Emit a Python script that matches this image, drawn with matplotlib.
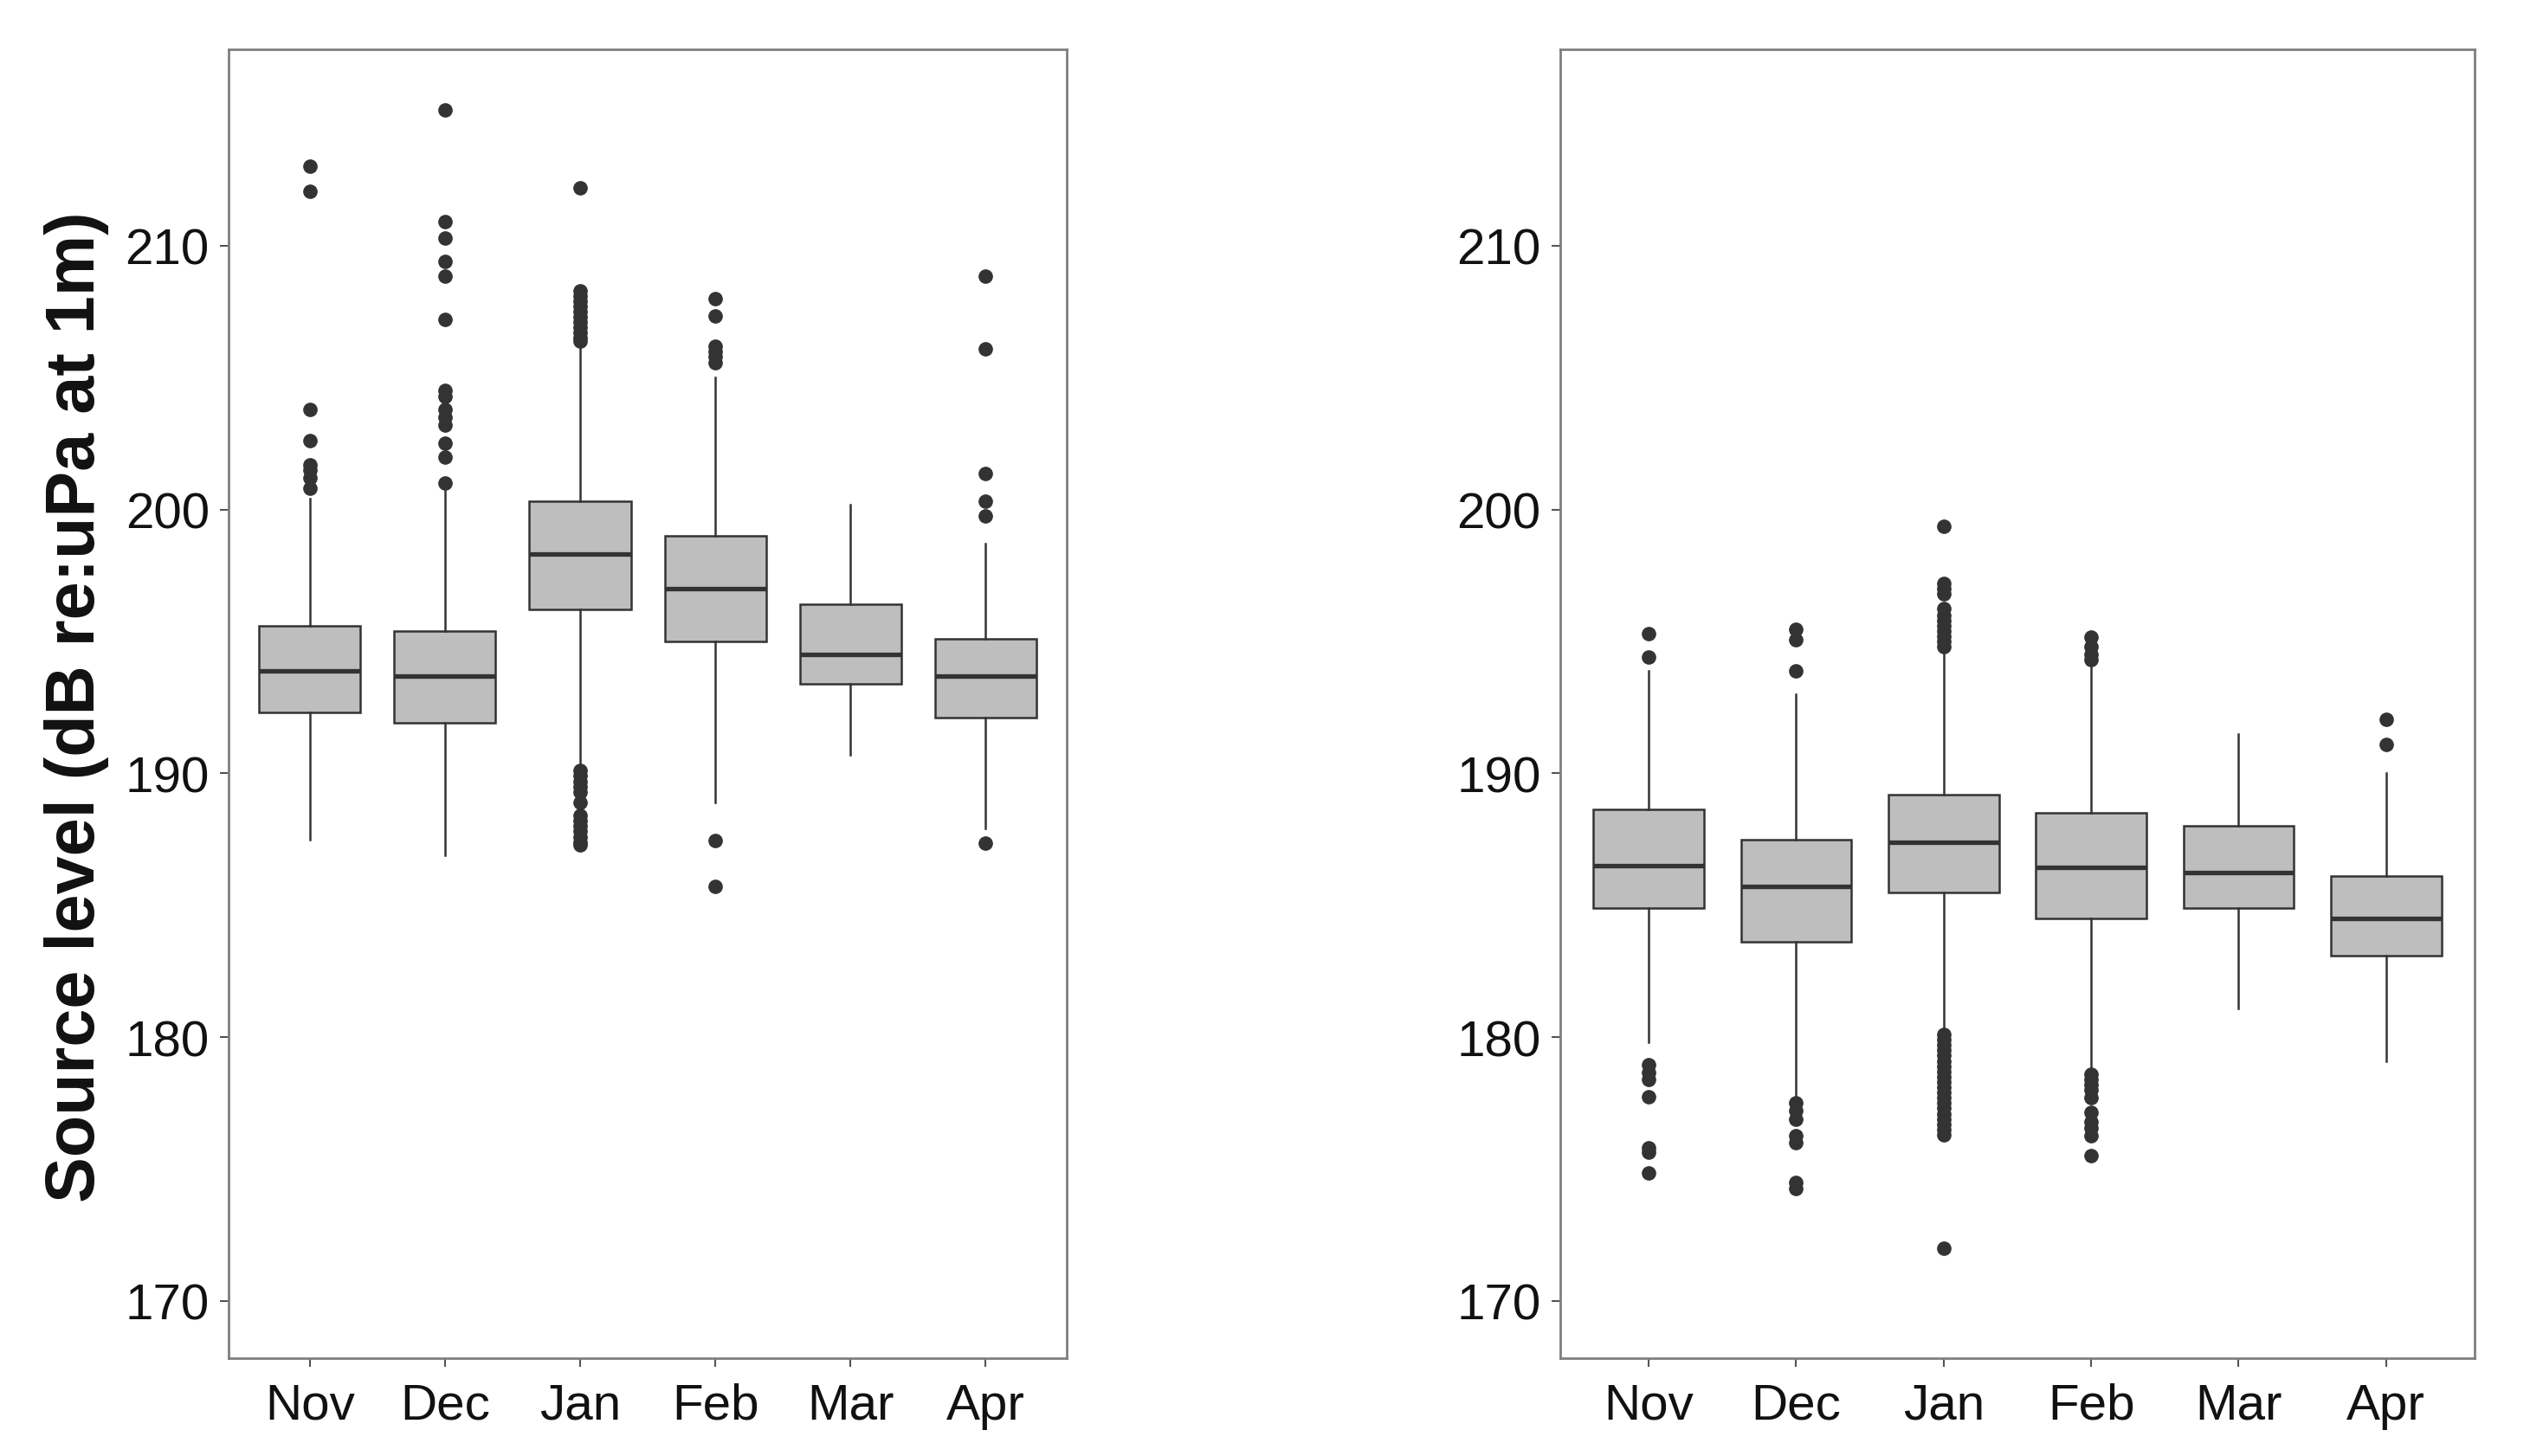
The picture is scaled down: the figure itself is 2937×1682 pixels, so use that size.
import matplotlib.pyplot as plt

months = ["Nov", "Dec", "Jan", "Feb", "Mar", "Apr"]
yticks = [170, 180, 190, 200, 210]

# left panel
left_q1 = [192.3, 191.9, 196.2, 195.0, 193.4, 192.1]
left_med = [193.9, 193.7, 198.3, 197.0, 194.5, 193.7]
left_q3 = [195.6, 195.4, 200.3, 199.0, 196.4, 195.1]
left_lo = [187.5, 186.9, 190.2, 188.9, 190.7, 187.9]
left_hi = [200.4, 200.7, 206.4, 205.0, 200.2, 198.7]
left_fliers = [
    [213.0, 212.05, 203.8, 202.6, 201.7, 201.5, 201.2, 200.8],
    [215.15, 210.9, 210.3, 209.4, 208.85, 207.2, 204.5, 204.3, 203.8,
     203.5, 203.2, 202.5, 202.0, 201.0],
    [212.2, 208.3, 208.1, 207.9, 207.7, 207.5, 207.3, 207.1, 206.9, 206.7,
     206.5, 206.4, 190.1, 189.9, 189.7, 189.5, 189.3, 188.9, 188.4, 188.2,
     188.0, 187.8, 187.6, 187.4, 187.3],
    [208.0, 207.35, 206.2, 206.0, 205.8, 205.55, 187.45, 185.7],
    [],
    [208.85, 206.1, 201.35, 200.3, 199.75, 187.35],
]

# right panel
right_q1 = [184.9, 183.6, 185.5, 184.5, 184.9, 183.1]
right_med = [186.5, 185.7, 187.4, 186.45, 186.25, 184.5]
right_q3 = [188.65, 187.5, 189.2, 188.5, 188.0, 186.1]
right_lo = [179.8, 177.7, 180.2, 178.7, 181.1, 179.1]
right_hi = [193.9, 193.0, 194.7, 194.2, 191.5, 190.0]
right_fliers = [
    [195.3, 194.4, 178.95, 178.65, 178.4, 177.75, 175.8, 175.65, 174.85],
    [195.45, 195.05, 193.9, 177.5, 177.2, 176.9, 176.25, 176.0, 174.5, 174.25],
    [199.35, 197.2, 197.0, 196.8, 196.25, 196.0, 195.8, 195.6, 195.4, 195.2,
     195.0, 194.8, 180.1, 179.9, 179.7, 179.5, 179.3, 179.1, 178.9, 178.7,
     178.5, 178.3, 178.1, 177.9, 177.7, 177.5, 177.3, 177.1, 176.9, 176.7,
     176.5, 176.3, 172.0],
    [195.15, 194.8, 194.5, 194.3, 178.6, 178.4, 178.2, 178.0, 177.7, 177.15,
     176.8, 176.55, 176.25, 175.5],
    [],
    [192.05, 191.1],
]

plt.rcParams['font.family'] = ['Liberation Sans', 'DejaVu Sans']

fig = plt.figure(figsize=(29.37, 16.83), dpi=100)
ax1 = fig.add_axes([0.0899, 0.0671, 0.3296, 0.8984])
ax2 = fig.add_axes([0.6135, 0.0671, 0.3596, 0.8984])

line_col = '#333333'


def draw(ax, q1, med, q3, lo, hi, fliers):
    stats = []
    for i in range(len(months)):
        stats.append(dict(q1=q1[i], med=med[i], q3=q3[i], whislo=lo[i],
                          whishi=hi[i], fliers=fliers[i], label=months[i]))
    ax.bxp(stats, positions=range(1, len(months) + 1), widths=0.75,
           patch_artist=True, showcaps=False,
           boxprops=dict(facecolor='#bebebe', edgecolor=line_col, linewidth=1.8),
           whiskerprops=dict(color=line_col, linewidth=1.8),
           medianprops=dict(color=line_col, linewidth=3.8, solid_capstyle='butt'),
           flierprops=dict(marker='o', markerfacecolor=line_col,
                           markeredgecolor=line_col, markersize=11))
    ax.set_xlim(0.4, 6.6)
    ax.set_ylim(167.83, 217.44)
    ax.set_yticks(yticks)
    ax.set_xticks(range(1, len(months) + 1))
    ax.set_xticklabels(months)
    ax.tick_params(axis='both', labelsize=42, length=7, width=1.5,
                   color='#555555', labelcolor='#111111')
    ax.tick_params(axis='x', pad=13)
    ax.tick_params(axis='y', pad=9)
    for s in ax.spines.values():
        s.set_color('#7f7f7f')
        s.set_linewidth(2)


draw(ax1, left_q1, left_med, left_q3, left_lo, left_hi, left_fliers)
draw(ax2, right_q1, right_med, right_q3, right_lo, right_hi, right_fliers)

fig.text(0.030, 0.5146, "Source level (dB re:uPa at 1m)", fontsize=57,
         fontweight='bold', rotation=90, ha='center', va='center',
         color='#111111')

plt.savefig("out.png", dpi=100)
